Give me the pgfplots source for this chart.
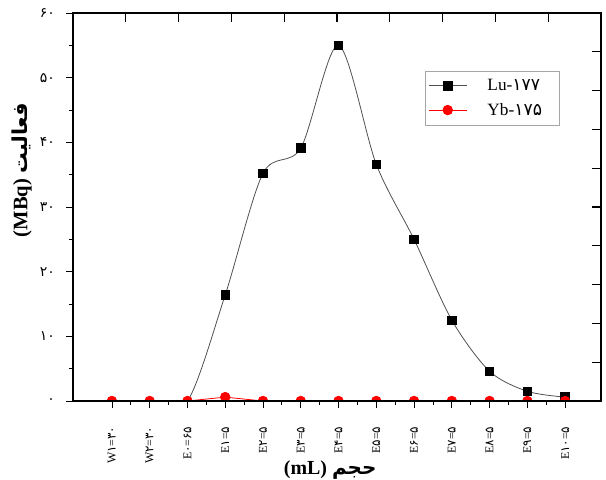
\documentclass[border=0pt]{standalone}
\usepackage{fontspec}
\usepackage{pgfplots}
\pgfplotsset{compat=1.18}
\setmainfont{Liberation Serif}
\newfontfamily\fa[Script=Arabic]{DejaVu Sans}
\newfontfamily\fd{DejaVu Sans}
\TeXXeTstate=1
\definecolor{luline}{RGB}{80,80,80}
\begin{document}
\begin{tikzpicture}
\useasboundingbox (-54.75bp,-59.25bp) rectangle (399.75bp,300.75bp);
\begin{axis}[scale only axis, width=396bp, height=291bp,
  xmin=-1.03, xmax=12.95, ymin=0, ymax=60,
  xtick={0,...,12},
  xticklabels={{W{\fd ۱}={\fd ۳۰}},{W{\fd ۲}={\fd ۳۰}},{E{\fd ۰}={\fd ۶۵}},{E{\fd ۱}={\fd ۵}},{E{\fd ۲}={\fd ۵}},{E{\fd ۳}={\fd ۵}},{E{\fd ۴}={\fd ۵}},{E{\fd ۵}={\fd ۵}},{E{\fd ۶}={\fd ۵}},{E{\fd ۷}={\fd ۵}},{E{\fd ۸}={\fd ۵}},{E{\fd ۹}={\fd ۵}},{E{\fd ۱۰}={\fd ۵}}},
  ytick={0,10,...,60},
  yticklabels={{\fd ۰},{\fd ۱۰},{\fd ۲۰},{\fd ۳۰},{\fd ۴۰},{\fd ۵۰},{\fd ۶۰}},
  minor x tick num=1, minor y tick num=1,
  xtick pos=left, ytick pos=left, tick align=outside,
  major tick length=5bp, minor tick length=3bp,
  tick style={black, line width=0.6pt},
  axis line style={line width=0.8pt},
  xticklabel style={rotate=90, anchor=east, font=\fontsize{9}{10}\selectfont, inner sep=1bp},
  xticklabel shift=13bp,
  yticklabel style={font=\fontsize{10.5}{12}\selectfont},
  yticklabel shift=5bp,
  xlabel={{\bfseries (mL)} {\fa\bfseries\beginR حجم\endR}},
  xlabel style={at={(axis description cs:0.487,-0.177)}, anchor=center, font=\fontsize{15}{17}\selectfont},
  ylabel={{\bfseries (MBq)} {\fa\bfseries\beginR فعالیت\endR}},
  ylabel style={at={(axis description cs:-0.097,0.595)}, anchor=center, font=\fontsize{15.5}{17}\selectfont},
  clip mode=individual, clip marker paths=true,
  legend style={at={(axis description cs:0.922,0.851)}, anchor=north east, draw=gray!70, line width=0.5pt, font=\fontsize{13}{15}\selectfont, row sep=4bp, inner xsep=2bp, inner ysep=4bp},
  legend cell align=left,
  legend image code/.code={\draw[mark repeat=2,mark phase=2] plot coordinates {(0cm,0cm) (0.5cm,0cm) (1.0cm,0cm)}; \path (1.4cm,0cm);},
]
\addlegendimage{luline, line width=0.6pt, mark=square*, mark size=3.2bp, mark options={fill=black, draw=black, solid}}
\addlegendentry{\kern2bp Lu-{\fd ۱۷۷}\kern9bp}
\addplot[luline, line width=0.6pt, smooth, mark=square*, mark size=3.2bp, mark options={fill=black, draw=black, solid}, mark indices={4,5,6,7,8,9,10,11,12,13}, forget plot]
  coordinates {(0,0) (1,0) (2,0) (3,16.4) (4,35.2) (5,39.1) (6,55) (7,36.6) (8,25) (9,12.5) (10,4.6) (11,1.5) (12,0.6)};
\addplot[red, line width=0.6pt, mark=*, mark size=3.6bp, mark options={fill=red, draw=red}]
  coordinates {(0,0) (1,0) (2,0) (3,0.6) (4,0) (5,0) (6,0) (7,0) (8,0) (9,0) (10,0) (11,0) (12,0)};
\addlegendentry{\kern2bp Yb-{\fd ۱۷۵}\kern9bp}
\end{axis}
\begin{axis}[scale only axis, width=396bp, height=291bp,
  xmin=0, xmax=10, ymin=0, ymax=10,
  xtick=\empty, ytick={1,2,3,4,5,6,7,8,9},
  yticklabels={},
  ytick pos=right, tick align=inside,
  major tick length=7bp,
  every tick/.style={draw=black, line width=0.8pt},
  axis line style={line width=0.8pt},
]
\pgfplotsinvokeforeach{1,...,9}{\draw[black, line width=0.8pt] (axis cs:#1,10) -- ([yshift=-7bp]axis cs:#1,10);}
\end{axis}
\end{tikzpicture}
\end{document}
